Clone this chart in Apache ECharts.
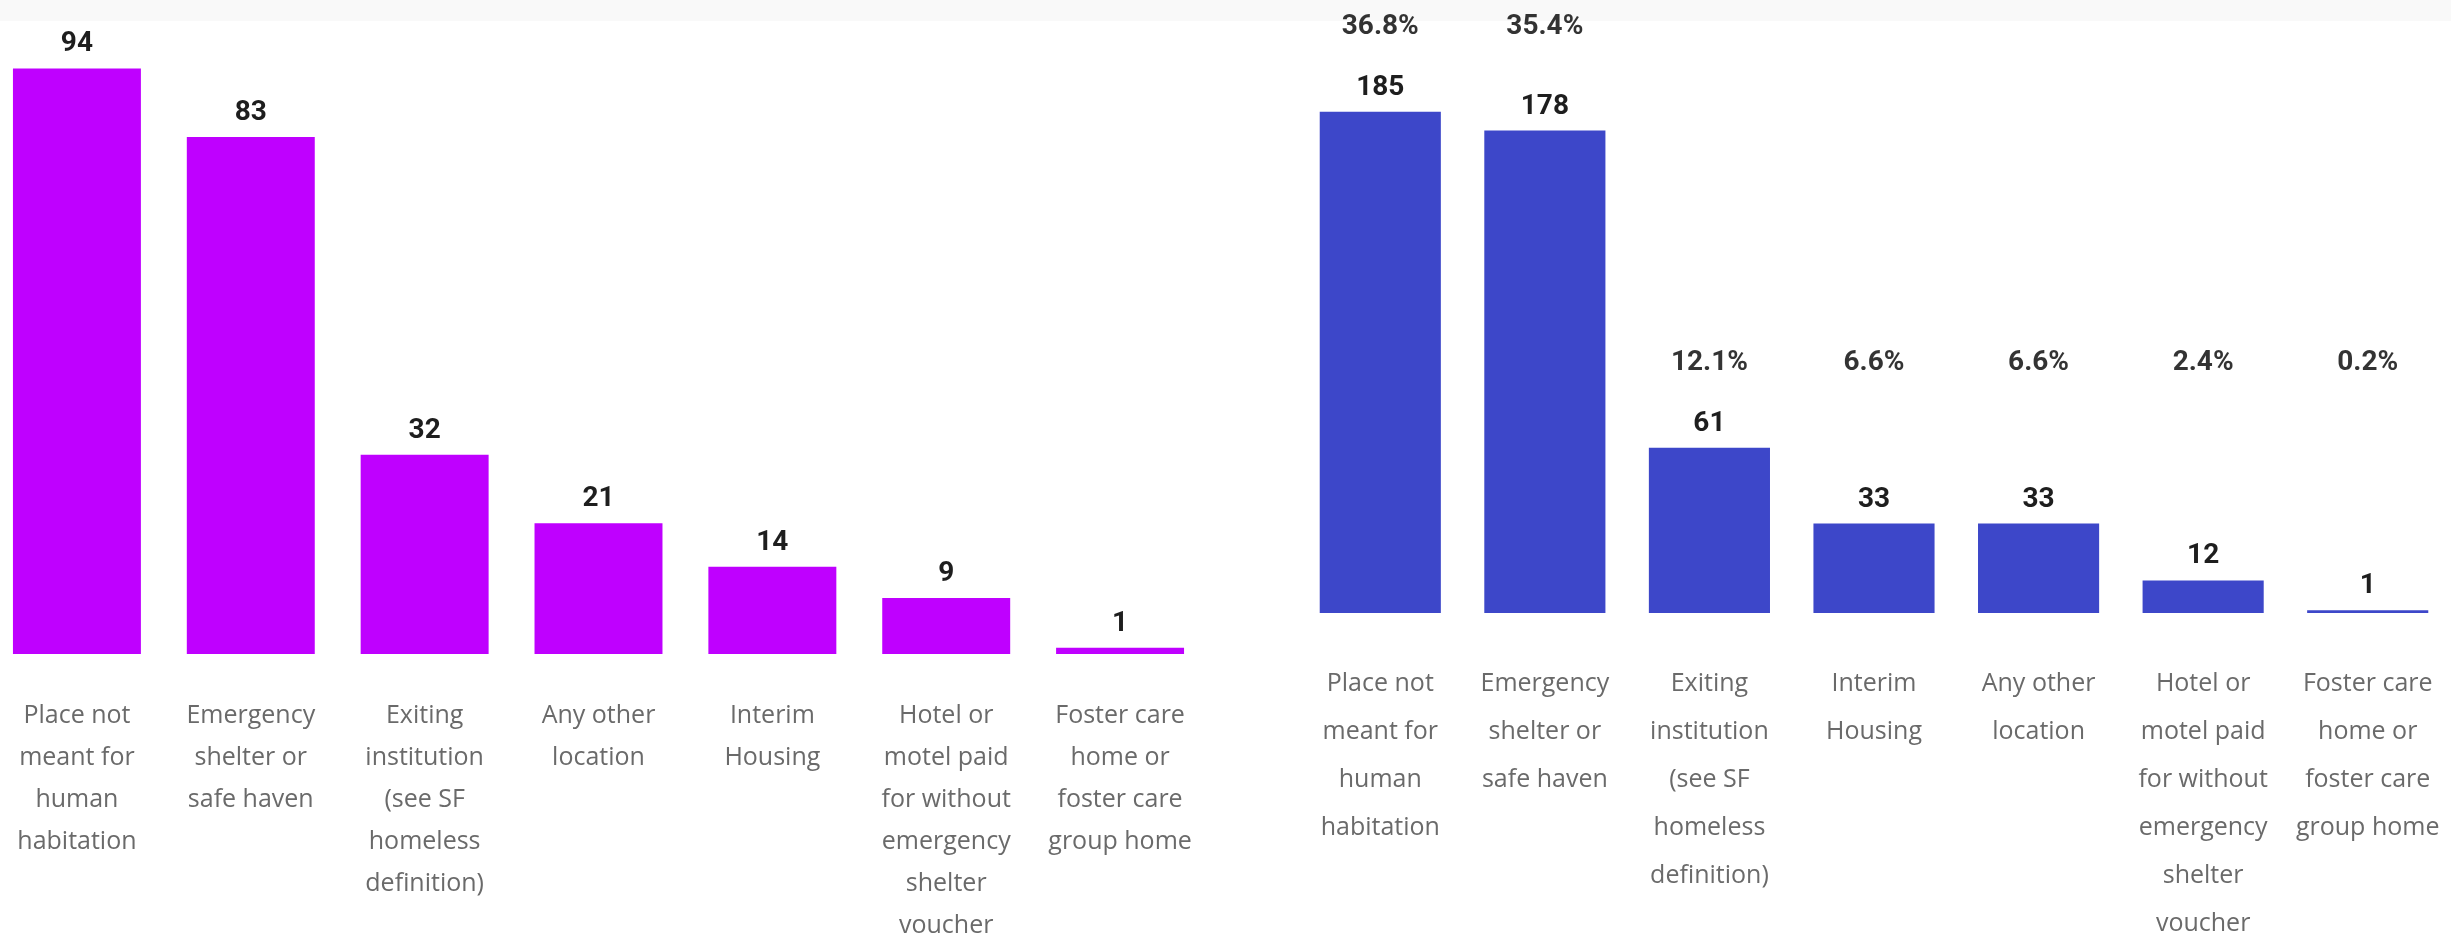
<!DOCTYPE html>
<html>
<head>
<meta charset="utf-8">
<title>Prior living situation</title>
<script src="https://cdn.jsdelivr.net/npm/echarts/dist/echarts.min.js"></script>
<style>
  html, body { margin: 0; padding: 0; background: #fff; overflow: hidden; }
  /* the first bar is cut by the left edge, so the canvas starts 10px off-screen */
  #chart { position: absolute; left: -10px; top: 0; width: 2461px; height: 938px; }
</style>
</head>
<body>
<div id="chart"></div>
<script>
// left panel
const leftCategories = [
  'Place not\nmeant for\nhuman\nhabitation',
  'Emergency\nshelter or\nsafe haven',
  'Exiting\ninstitution\n(see SF\nhomeless\ndefinition)',
  'Any other\nlocation',
  'Interim\nHousing',
  'Hotel or\nmotel paid\nfor without\nemergency\nshelter\nvoucher',
  'Foster care\nhome or\nfoster care\ngroup home'
]
const leftValues = [94, 83, 32, 21, 14, 9, 1]

// right panel
const rightCategories = [
  'Place not\nmeant for\nhuman\nhabitation',
  'Emergency\nshelter or\nsafe haven',
  'Exiting\ninstitution\n(see SF\nhomeless\ndefinition)',
  'Interim\nHousing',
  'Any other\nlocation',
  'Hotel or\nmotel paid\nfor without\nemergency\nshelter\nvoucher',
  'Foster care\nhome or\nfoster care\ngroup home'
]
const rightValues = [185, 178, 61, 33, 33, 12, 1]
const rightPercents = ['36.8%', '35.4%', '12.1%', '6.6%', '6.6%', '2.4%', '0.2%']
// percent labels sit in two rows, level with the 185 bar and the 61 bar
const percentLevel = [185, 185, 61, 61, 61, 61, 61]

const chart = echarts.init(document.getElementById('chart'))

const valueLabel = {
  show: true,
  position: 'top',
  distance: 10,
  color: '#1e1e1e',
  fontFamily: 'Roboto',
  fontWeight: 'bold',
  fontSize: 28
}

function catAxis(idx, data, margin, lineHeight) {
  return {
    type: 'category',
    gridIndex: idx,
    data: data,
    axisLine: { show: false },
    axisTick: { show: false },
    axisLabel: {
      interval: 0,
      margin: margin,
      color: '#6a6a6a',
      fontFamily: 'Open Sans',
      fontSize: 25,
      lineHeight: lineHeight,
      align: 'center'
    }
  }
}

chart.setOption({
  backgroundColor: '#ffffff',
  animation: false,
  graphic: [
    // faint grey strip along the top edge of the screenshot
    { type: 'rect', left: 0, top: 0, z: -10, shape: { width: 2461, height: 21 }, style: { fill: '#f9f9f9' } }
  ],
  // labels run off the bottom edge, so don't let the grid shrink to fit them
  grid: [
    { left: 0, top: 31, width: 1217, height: 623, containLabel: false, outerBoundsMode: 'none' },
    { left: 1308, top: 71, width: 1152, height: 542, containLabel: false, outerBoundsMode: 'none' }
  ],
  xAxis: [
    catAxis(0, leftCategories, 41, 42),
    catAxis(1, rightCategories, 47, 48)
  ],
  yAxis: [
    { type: 'value', gridIndex: 0, min: 0, max: 100, show: false },
    { type: 'value', gridIndex: 1, min: 0, max: 200, show: false }
  ],
  series: [
    {
      type: 'bar',
      xAxisIndex: 0,
      yAxisIndex: 0,
      data: leftValues,
      barCategoryGap: '26.4%',
      itemStyle: { color: '#bf00ff' },
      label: valueLabel
    },
    {
      type: 'bar',
      xAxisIndex: 1,
      yAxisIndex: 1,
      data: rightValues,
      barCategoryGap: '26.4%',
      itemStyle: { color: '#3d47c9' },
      label: valueLabel
    },
    {
      type: 'scatter',
      xAxisIndex: 1,
      yAxisIndex: 1,
      symbolSize: 0,
      data: percentLevel,
      itemStyle: { color: 'transparent' },
      label: {
        show: true,
        position: 'top',
        distance: 71,
        formatter: (p) => rightPercents[p.dataIndex],
        color: '#000',
        fontFamily: 'Roboto',
        fontWeight: 'bold',
        fontSize: 28
      },
      silent: true
    }
  ]
})
</script>
</body>
</html>
